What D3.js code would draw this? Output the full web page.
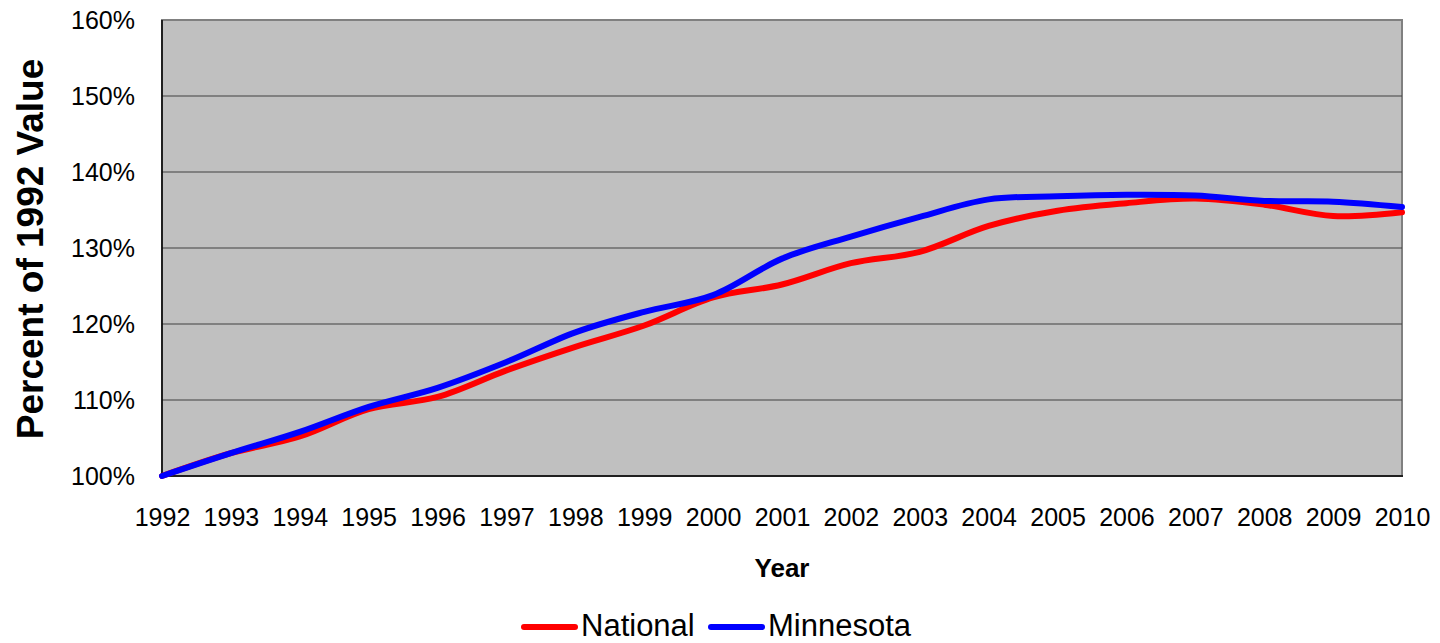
<!DOCTYPE html>
<html><head><meta charset="utf-8">
<script src="https://cdn.jsdelivr.net/npm/d3@7"></script>
<style>body{margin:0;background:#fff;font-family:"Liberation Sans",Arial,sans-serif}</style>
</head><body><svg id="c" width="1440" height="643"></svg>
<script>
const years = [1992,1993,1994,1995,1996,1997,1998,1999,2000,2001,2002,2003,2004,2005,2006,2007,2008,2009,2010];
const national = [100,103.0,105.2,108.8,110.4,113.9,117.0,119.8,123.5,125.2,128.0,129.5,132.9,134.9,135.9,136.5,135.7,134.2,134.7];
const minnesota = [100,103.0,105.8,109.1,111.6,115.0,118.9,121.6,123.8,128.6,131.5,134.1,136.4,136.8,137.0,136.9,136.2,136.1,135.4];
const yTicks = [100,110,120,130,140,150,160];
const seriesNames = ["National","Minnesota"];
const seriesColors = ["#FF0000","#0000FF"];

const svg = d3.select("#c");
const L=162, R=1402, T=20, B=476;
const x = d3.scalePoint().domain(years).range([L,R]);
const y = d3.scaleLinear().domain([100,160]).range([B,T]);

svg.append("rect").attr("x",L).attr("y",T).attr("width",R-L).attr("height",B-T)
  .attr("fill","#C0C0C0").attr("stroke","#808080").attr("stroke-width",2);

svg.append("g").selectAll("line").data(yTicks.slice(1,-1)).join("line")
  .attr("x1",L).attr("x2",R).attr("y1",d=>y(d)).attr("y2",d=>y(d))
  .attr("stroke","#404040").attr("stroke-width",1.2);

svg.append("line").attr("x1",L).attr("x2",L).attr("y1",T).attr("y2",B).attr("stroke","#000").attr("stroke-width",1.5);
svg.append("line").attr("x1",L).attr("x2",R+1).attr("y1",B).attr("y2",B).attr("stroke","#000").attr("stroke-width",1.5);

const yAxis = d3.axisLeft(y).tickValues(yTicks).tickFormat(d=>d+"%").tickSize(0).tickPadding(27);
const gy = svg.append("g").attr("transform",`translate(${L},0)`).call(yAxis);
gy.select(".domain").remove();
gy.selectAll("text").attr("font-size",25).attr("font-family","Liberation Sans, Arial, sans-serif").attr("fill","#000");

const xAxis = d3.axisBottom(x).tickSize(0).tickPadding(32);
const gx = svg.append("g").attr("transform",`translate(0,${B})`).call(xAxis);
gx.select(".domain").remove();
gx.selectAll("text").attr("font-size",25).attr("font-family","Liberation Sans, Arial, sans-serif").attr("fill","#000");

const line = d3.line().x((d,i)=>x(years[i])).y(d=>y(d)).curve(d3.curveCatmullRom.alpha(0.5));
[national, minnesota].forEach((s,k)=>{
  svg.append("path").attr("d",line(s)).attr("fill","none").attr("stroke",seriesColors[k])
    .attr("stroke-width",6).attr("stroke-linejoin","round").attr("stroke-linecap","round");
});

svg.append("text").attr("transform","translate(43,249) rotate(-90)").attr("text-anchor","middle")
  .attr("font-size",37).attr("font-weight","bold").text("Percent of 1992 Value");
svg.append("text").attr("x",782).attr("y",577).attr("text-anchor","middle")
  .attr("font-size",26).attr("font-weight","bold").text("Year");

const legX = [522, 709];
seriesNames.forEach((n,k)=>{
  svg.append("line").attr("x1",legX[k]+2).attr("x2",legX[k]+53).attr("y1",627).attr("y2",627)
    .attr("stroke",seriesColors[k]).attr("stroke-width",6).attr("stroke-linecap","round");
  svg.append("text").attr("x",legX[k]+59).attr("y",636).attr("font-size",31).text(n);
});
</script></body></html>
